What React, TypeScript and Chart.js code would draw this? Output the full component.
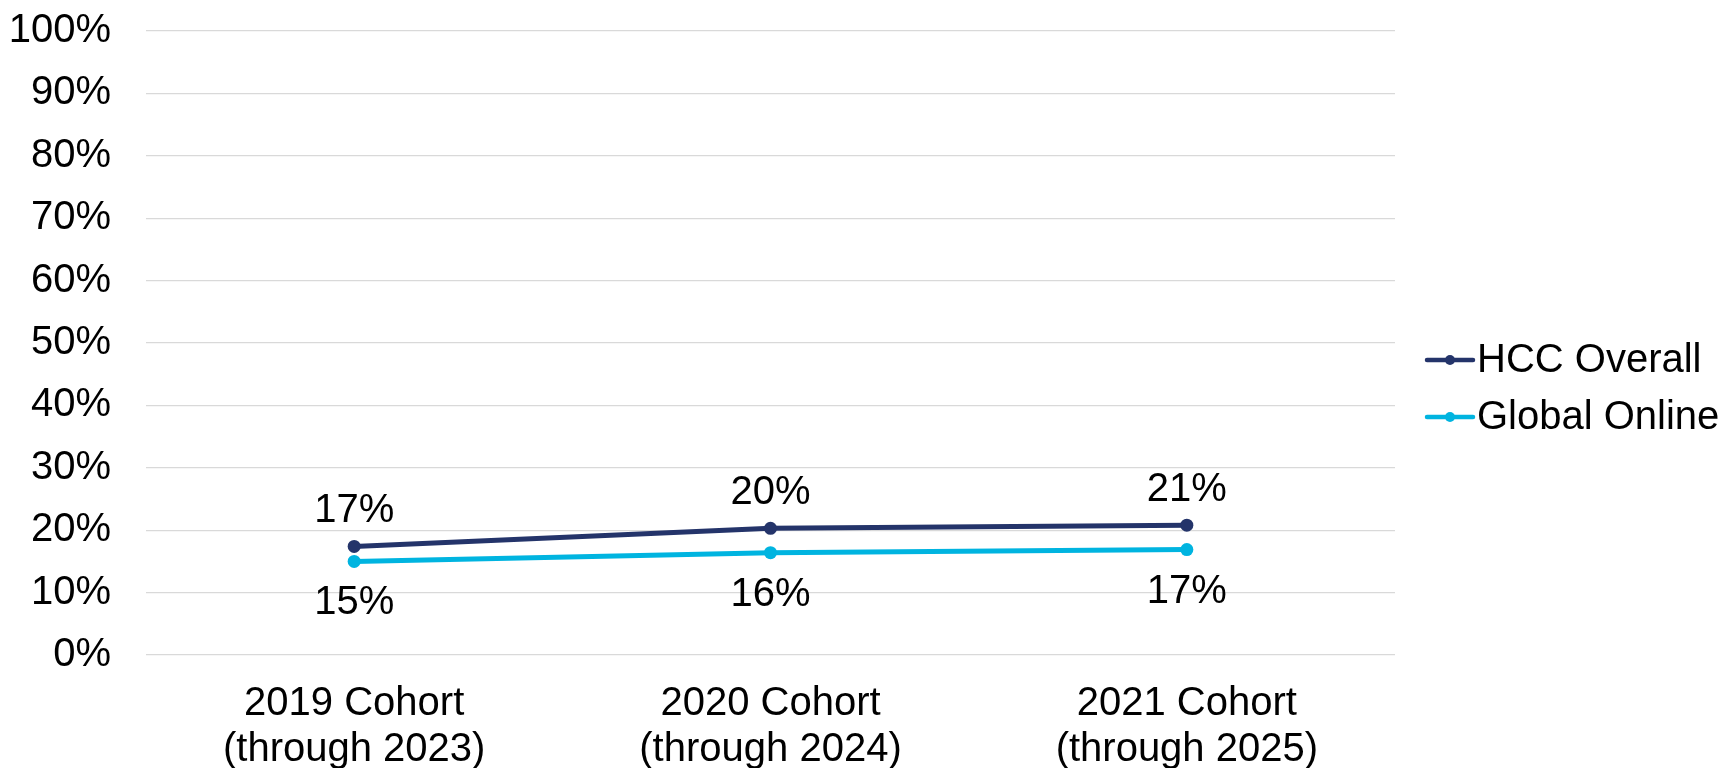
import React, { useEffect, useRef } from 'react';
import { Chart, registerables } from 'chart.js';

Chart.register(...registerables);

const categories: string[][] = [
  ['2019 Cohort', '(through 2023)'],
  ['2020 Cohort', '(through 2024)'],
  ['2021 Cohort', '(through 2025)'],
];
const hccOverall: number[] = [17.4, 20.3, 20.8];
const globalOnline: number[] = [15.0, 16.4, 16.9];
const seriesNames: string[] = ['HCC Overall', 'Global Online'];
const seriesColors: string[] = ['#24346A', '#00B4E0'];
const yMin = 0;
const yMax = 100;
const yStep = 10;

const FONT = "'Liberation Sans', Arial, sans-serif";
const FONT_SIZE = 40;

const labelPlugin = {
  id: 'valueLabels',
  afterDatasetsDraw(chart: any) {
    const ctx = chart.ctx;
    ctx.save();
    ctx.font = `${FONT_SIZE}px ${FONT}`;
    ctx.fillStyle = '#000000';
    ctx.textAlign = 'center';
    ctx.textBaseline = 'alphabetic';
    chart.data.datasets.forEach((ds: any, di: number) => {
      const meta = chart.getDatasetMeta(di);
      meta.data.forEach((pt: any, i: number) => {
        const txt = Math.round(ds.data[i]) + '%';
        if (di === 0) {
          ctx.fillText(txt, pt.x, pt.y - 24);
        } else {
          ctx.fillText(txt, pt.x, pt.y + 53);
        }
      });
    });
    ctx.restore();
  },
};

const legendPlugin = {
  id: 'sideLegend',
  afterDraw(chart: any) {
    const ctx = chart.ctx;
    const area = chart.chartArea;
    const x0 = area.right + 32;
    const lineLen = 46;
    const rowY = [360, 417];
    ctx.save();
    ctx.font = `${FONT_SIZE}px ${FONT}`;
    ctx.textBaseline = 'middle';
    ctx.textAlign = 'left';
    chart.data.datasets.forEach((ds: any, di: number) => {
      const y = rowY[di];
      ctx.strokeStyle = ds.borderColor;
      ctx.lineWidth = 4.5;
      ctx.lineCap = 'round';
      ctx.beginPath();
      ctx.moveTo(x0, y);
      ctx.lineTo(x0 + lineLen, y);
      ctx.stroke();
      ctx.fillStyle = ds.borderColor;
      ctx.beginPath();
      ctx.arc(x0 + lineLen / 2, y, 5, 0, Math.PI * 2);
      ctx.fill();
      ctx.fillStyle = '#000000';
      ctx.fillText(ds.label, x0 + lineLen + 4, y + 1);
    });
    ctx.restore();
  },
};

export default function App() {
  const ref = useRef<HTMLCanvasElement | null>(null);

  useEffect(() => {
    document.body.style.margin = '0';
    if (!ref.current) return;
    const chart = new Chart(ref.current, {
      type: 'line',
      data: {
        labels: categories as any,
        datasets: [
          {
            label: seriesNames[0],
            data: hccOverall,
            borderColor: seriesColors[0],
            backgroundColor: seriesColors[0],
            borderWidth: 5,
            pointRadius: 6.5,
            pointHoverRadius: 6.5,
            pointBackgroundColor: seriesColors[0],
            pointBorderWidth: 0,
            tension: 0,
          },
          {
            label: seriesNames[1],
            data: globalOnline,
            borderColor: seriesColors[1],
            backgroundColor: seriesColors[1],
            borderWidth: 5,
            pointRadius: 6.5,
            pointHoverRadius: 6.5,
            pointBackgroundColor: seriesColors[1],
            pointBorderWidth: 0,
            tension: 0,
          },
        ],
      },
      options: {
        animation: false,
        responsive: true,
        maintainAspectRatio: false,
        layout: { padding: { top: 31, right: 324, left: 0, bottom: 0 } },
        plugins: {
          legend: { display: false },
          tooltip: { enabled: false },
        },
        scales: {
          x: {
            offset: true,
            grid: { display: false },
            border: { display: false },
            ticks: {
              color: '#000000',
              font: { family: FONT, size: FONT_SIZE, lineHeight: 1.15 },
              padding: 18,
              maxRotation: 0,
              autoSkip: false,
            },
            afterFit(scale: any) {
              scale.height = 113;
              scale.paddingLeft = 0;
              scale.paddingRight = 0;
            },
          },
          y: {
            min: yMin,
            max: yMax,
            border: { display: false },
            grid: { color: '#D9D9D9', lineWidth: 1.3, drawTicks: false },
            ticks: {
              stepSize: yStep,
              color: '#000000',
              padding: 35,
              font: { family: FONT, size: FONT_SIZE },
              callback: (v: any) => v + '%',
            },
            afterFit(scale: any) {
              scale.width = 146;
              scale.paddingTop = 0;
              scale.paddingBottom = 0;
            },
          },
        },
      },
      plugins: [labelPlugin, legendPlugin],
    });
    return () => chart.destroy();
  }, []);

  return (
    <div style={{ width: 1719, height: 768, position: 'relative' }}>
      <canvas ref={ref} />
    </div>
  );
}
